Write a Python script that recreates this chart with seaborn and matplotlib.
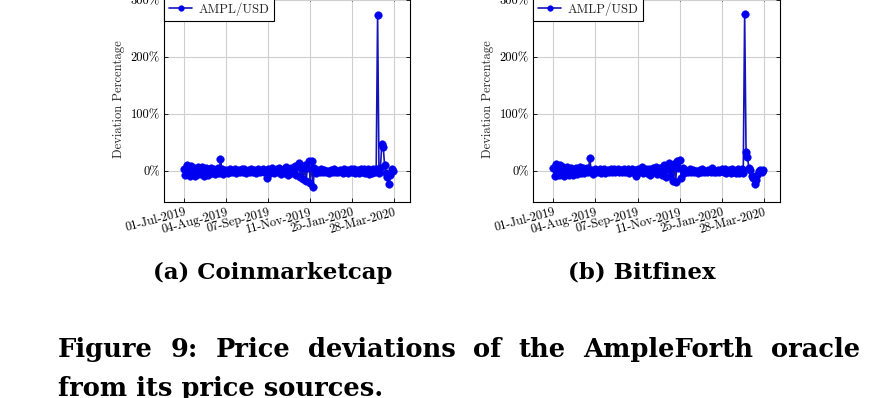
import numpy as np
import pandas as pd
import matplotlib
matplotlib.use("Agg")
import matplotlib.pyplot as plt
import seaborn as sns

# ---------------- data ----------------
tick_labels = ["01-Jul-2019", "04-Aug-2019", "07-Sep-2019",
               "11-Nov-2019", "25-Jan-2020", "28-Mar-2020"]
y_ticks = [0, 100, 200, 300]
y_tick_labels = ["0%", "100%", "200%", "300%"]

ampl_cmc = [4, -6, 11, 0, -8, 9, -3, 6, -9, 2,
            8, -5, 1, 7, -8, 3, 5, -6, 0, 6,
            -4, 4, -5, 2, 5, -3, 22, 3, -5, 1,
            2, -3, 0, 4, -2, 1, 3, -3, 0, 2,
            -2, 4, -1, 3, -3, 0, 2, -2, 4, -1,
            2, -3, 1, 3, -2, 0, 4, -2, 1, -12,
            3, -3, 0, 6, -4, 2, 3, -2, 5, -5,
            1, 4, -3, 8, -6, 2, 5, -4, 0, 9,
            -6, 8, 15, -10, 5, -14, 10, -18, 6, 17,
            -20, 18, -27, 5, -3, 2, 0, -2, 3, -1,
            2, -2, 1, -3, 0, 2, -1, 3, -2, 1,
            -2, 2, 0, -3, 3, -1, 2, -4, 1, 3,
            -2, 4, -3, 0, 2, -4, 3, -2, 4, -3,
            1, 3, -5, 2, -3, 4, -2, 3, 274, -3,
            5, 48, 43, 10, -4, -10, -23, -6, 3, 1]

amlp_bfx = [6, -8, 13, 0, -7, 10, -4, 7, -9, 3,
            8, -6, 1, 6, -7, 2, 5, -5, 0, 7,
            -3, 5, -4, 2, 5, -2, 23, 2, -5, 1,
            3, -2, 0, 4, -3, 1, 3, -3, 0, 2,
            -2, 3, -1, 4, -2, 0, 3, -2, 2, -1,
            3, -2, 1, 4, -3, 0, 3, -2, 2, -9,
            4, -2, 0, 7, -4, 2, 3, -3, 4, -6,
            1, 5, -2, 8, -5, 2, 6, -7, 0, 10,
            -10, 4, 15, -8, 5, -18, 12, -19, 17, 6,
            20, -12, 5, -3, 2, 0, -2, 3, -1, 2,
            -2, 1, 0, -3, 2, -1, 3, -2, 1, -1,
            2, 0, -2, 6, -2, 1, -1, 2, -2, 0,
            3, -2, 4, -3, 0, 2, -3, 4, -2, 1,
            -3, 3, -4, 2, 4, -3, 276, 33, 25, 5,
            2, -8, -12, -22, -15, -6, 0, 2, -1, 2]

series_names = ["AMPL/USD", "AMLP/USD"]
sub_captions = ["(a) Coinmarketcap", "(b) Bitfinex"]
caption_line1 = "Figure 9: Price deviations of the AmpleForth oracle"
caption_line2 = "from its price sources."

# ---------------- style ----------------
sns.set_theme(style="ticks")
plt.rcParams["font.family"] = ["serif"]
plt.rcParams["font.serif"] = ["cmr10", "DejaVu Serif"]
plt.rcParams["mathtext.fontset"] = "cm"
plt.rcParams["axes.unicode_minus"] = False
plt.rcParams["axes.formatter.use_mathtext"] = True

W, H = 888, 398
fig = plt.figure(figsize=(W / 100, H / 100), dpi=100)

line_col = "#1414b8"
mark_col = "#0000f0"

panels = [(164, 246, ampl_cmc, series_names[0]),
          (533, 247, amlp_bfx, series_names[1])]

step = 30
for left, width, vals, name in panels:
    ax = fig.add_axes([left / W, 196 / H, width / W, 205 / H])
    df = pd.DataFrame({"idx": np.arange(len(vals)), "dev": vals})
    sns.lineplot(data=df, x="idx", y="dev", ax=ax, color=line_col,
                 marker="o", markersize=5.5, markerfacecolor=mark_col,
                 markeredgecolor=mark_col, markeredgewidth=0.3,
                 linewidth=1.2, label=name, sort=False)
    ax.set_xticks([i * step for i in range(len(tick_labels))])
    ax.set_xticklabels(tick_labels, rotation=15, ha="right", va="top",
                       rotation_mode="anchor", fontsize=9)
    ax.set_yticks(y_ticks)
    ax.set_yticklabels(y_tick_labels, fontsize=9)
    ax.set_xlim(-0.476 * step, 5.37 * step)
    ax.set_ylim(-54, 305)
    ax.set_xlabel("")
    ax.set_ylabel("Deviation Percentage", fontsize=9, labelpad=4)
    ax.grid(True, color="#cfcfcf", linewidth=0.8)
    ax.set_axisbelow(True)
    for sp in ax.spines.values():
        sp.set_color("black")
        sp.set_linewidth(0.8)
        sp.set_visible(True)
    ax.tick_params(direction="in", length=3, width=0.6, colors="black",
                   top=True, right=True, pad=3)
    leg = ax.legend(loc="upper left", bbox_to_anchor=(0, 1), borderaxespad=0,
                    frameon=True, fancybox=False, fontsize=9.2,
                    handlelength=1.8, handletextpad=0.5, borderpad=0.4,
                    markerscale=0.75)
    leg.get_frame().set_edgecolor("black")
    leg.get_frame().set_linewidth(0.8)
    leg.get_frame().set_alpha(1)

# ---------------- captions ----------------
cap_font = dict(family=["DejaVu Serif"], weight="bold", color="black")
fig.text(273 / W, (H - 279) / H, sub_captions[0], ha="center",
         va="baseline", fontsize=16.5, **cap_font)
fig.text(642 / W, (H - 279) / H, sub_captions[1], ha="center",
         va="baseline", fontsize=16.5, **cap_font)

# justified first caption line
words = caption_line1.split(" ")
renderer = fig.canvas.get_renderer()
texts = [fig.text(0, (H - 357) / H, w, ha="left", va="baseline",
                  fontsize=18.5, **cap_font) for w in words]
widths = [t.get_window_extent(renderer).width for t in texts]
x0, x1 = 58, 860
gap = (x1 - x0 - sum(widths)) / (len(words) - 1)
x = x0
for t, wd in zip(texts, widths):
    t.set_x(x / W)
    x += wd + gap
fig.text(x0 / W, (H - 396) / H, caption_line2, ha="left", va="baseline",
         fontsize=18.5, **cap_font)

fig.savefig("out.png", dpi=100)
